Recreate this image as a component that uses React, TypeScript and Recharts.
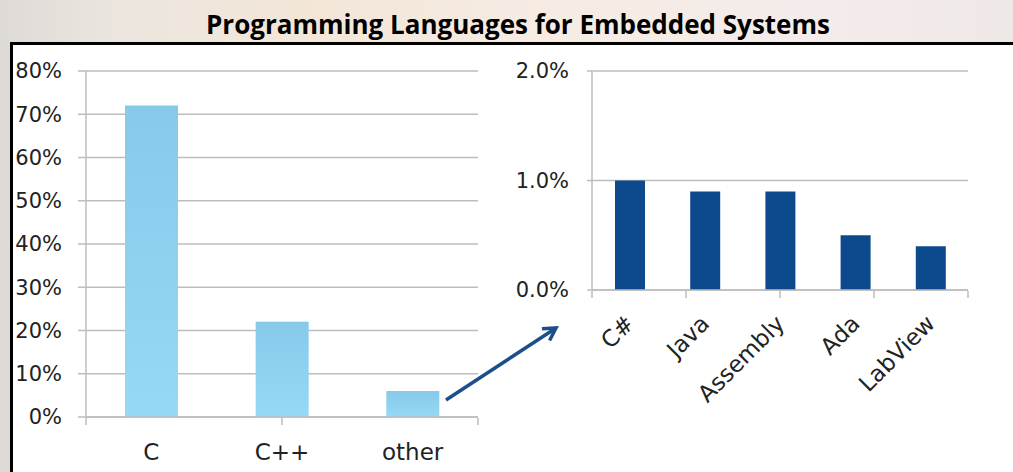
import React from 'react'
import { BarChart, Bar, XAxis, YAxis, CartesianGrid } from 'recharts'

// share of embedded projects, in percent
const mainLangs = ['C', 'C++', 'other']
const mainShares = [72, 22, 6]
const mainTicks = [0, 10, 20, 30, 40, 50, 60, 70, 80]

// breakdown of "other", in percent
const otherLangs = ['C#', 'Java', 'Assembly', 'Ada', 'LabView']
const otherShares = [1.0, 0.9, 0.9, 0.5, 0.4]
const otherTicks = [0, 1, 2]

const mainData = mainLangs.map((name, i) => ({ name, value: mainShares[i] }))
const otherData = otherLangs.map((name, i) => ({ name, value: otherShares[i] }))

const GRID = '#bdbdbd'
const TEXT = '#222'
const FONT = '"DejaVu Sans", Verdana, sans-serif'

const RotatedTick = (props: any) => {
  const { x, y, payload } = props
  return (
    <g transform={`translate(${x + 6},${y + 35})`}>
      <text transform="rotate(-45)" textAnchor="end" fill={TEXT} fontSize={23} fontFamily={FONT}>
        {payload.value}
      </text>
    </g>
  )
}

// category boundary marks only, no label
const NoLabel = () => <g />

export default function App() {
  return (
    <div
      style={{
        position: 'absolute',
        left: 0,
        top: 0,
        width: 1013,
        height: 472,
        overflow: 'hidden',
        background: 'linear-gradient(90deg, #dedad6 0%, #ece6df 12%, #f3e6d8 30%, #f6ece4 55%, #f4eceb 80%, #eee8e6 100%)',
      }}
    >
      {/* title */}
      <div
        style={{
          position: 'absolute',
          left: 0,
          top: 8,
          width: 1036,
          textAlign: 'center',
          fontFamily: '"Open Sans", sans-serif',
          fontWeight: 700,
          fontSize: 26,
          color: '#000',
          lineHeight: '32px',
          whiteSpace: 'nowrap',
        }}
      >
        Programming Languages for Embedded Systems
      </div>

      {/* white panel */}
      <div
        style={{
          position: 'absolute',
          left: 10,
          top: 42,
          right: -10,
          bottom: -10,
          background: '#fff',
          borderLeft: '3px solid #000',
          borderTop: '3px solid #000',
        }}
      />

      {/* main languages */}
      <div style={{ position: 'absolute', left: 0, top: 0 }}>
        <BarChart width={500} height={472} data={mainData} margin={{ top: 71, right: 22, bottom: 53, left: 0 }}>
          <defs>
            <linearGradient id="lightBar" x1="0" y1="0" x2="0" y2="1">
              <stop offset="0%" stopColor="#86c9e9" />
              <stop offset="100%" stopColor="#95d9f6" />
            </linearGradient>
          </defs>
          <CartesianGrid vertical={false} stroke={GRID} strokeWidth={1.5} />
          <XAxis
            dataKey="name"
            height={1}
            axisLine={{ stroke: GRID, strokeWidth: 1.5 }}
            tickLine={false}
            tickSize={0}
            tickMargin={27}
            tick={{ fill: TEXT, fontSize: 23, fontFamily: FONT }}
            interval={0}
          />
          <XAxis
            xAxisId="edge"
            type="number"
            domain={[0, mainLangs.length]}
            ticks={[0, 1, 2, 3]}
            interval={0}
            allowDataOverflow
            height={1}
            axisLine={false}
            tick={<NoLabel />}
            tickSize={7}
            tickLine={{ stroke: GRID, strokeWidth: 1.5 }}
          />
          <YAxis
            width={86}
            domain={[0, 80]}
            ticks={mainTicks}
            interval={0}
            tickFormatter={(v: number) => `${v}%`}
            axisLine={{ stroke: GRID, strokeWidth: 1.5 }}
            tickLine={{ stroke: GRID, strokeWidth: 1.5 }}
            tickSize={8}
            tickMargin={16}
            tick={{ fill: TEXT, fontSize: 21, fontFamily: FONT }}
          />
          <Bar dataKey="value" fill="url(#lightBar)" barSize={53} isAnimationActive={false} />
        </BarChart>
      </div>

      {/* breakdown of "other" */}
      <div style={{ position: 'absolute', left: 480, top: 0 }}>
        <BarChart width={520} height={472} data={otherData} margin={{ top: 71, right: 32, bottom: 180, left: 0 }}>
          <CartesianGrid vertical={false} stroke={GRID} strokeWidth={1.5} />
          <XAxis
            dataKey="name"
            height={1}
            axisLine={{ stroke: GRID, strokeWidth: 1.5 }}
            tickLine={false}
            tickSize={0}
            tickMargin={0}
            tick={<RotatedTick />}
            interval={0}
          />
          <XAxis
            xAxisId="edge"
            type="number"
            domain={[0, otherLangs.length]}
            ticks={[0, 1, 2, 3, 4, 5]}
            interval={0}
            allowDataOverflow
            height={1}
            axisLine={false}
            tick={<NoLabel />}
            tickSize={7}
            tickLine={{ stroke: GRID, strokeWidth: 1.5 }}
          />
          <YAxis
            width={112}
            domain={[0, 2]}
            ticks={otherTicks}
            interval={0}
            tickFormatter={(v: number) => `${v.toFixed(1)}%`}
            axisLine={{ stroke: GRID, strokeWidth: 1.5 }}
            tickLine={{ stroke: GRID, strokeWidth: 1.5 }}
            tickSize={5}
            tickMargin={18}
            tick={{ fill: TEXT, fontSize: 21, fontFamily: FONT }}
          />
          <Bar dataKey="value" fill="#0c4a8d" barSize={30} isAnimationActive={false} />
        </BarChart>
      </div>

      {/* arrow from "other" to the breakdown */}
      <svg width={1013} height={472} style={{ position: 'absolute', left: 0, top: 0, pointerEvents: 'none' }}>
        <defs>
          <marker id="head" viewBox="0 0 10 10" refX="8" refY="5" markerWidth="5" markerHeight="5" orient="auto">
            <path d="M1,1 L8,5 L1,9" fill="none" stroke="#1b4f8c" strokeWidth={2} strokeLinejoin="miter" />
          </marker>
        </defs>
        <line x1={446} y1={400} x2={556} y2={328} stroke="#1b4f8c" strokeWidth={3.5} markerEnd="url(#head)" />
      </svg>
    </div>
  )
}
